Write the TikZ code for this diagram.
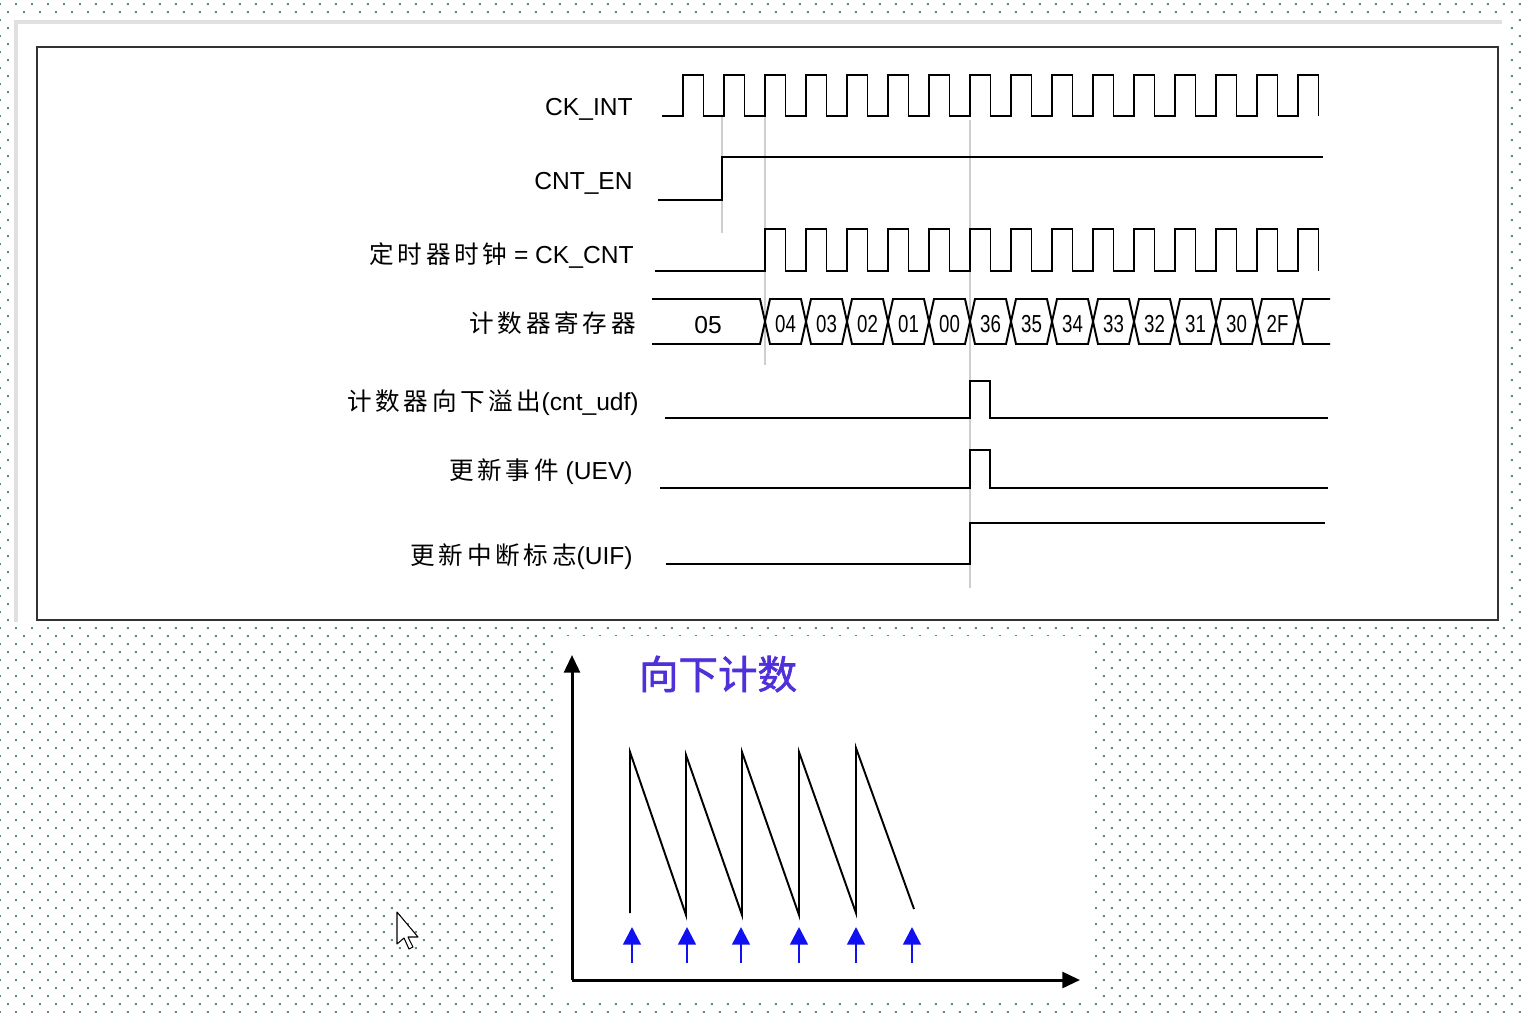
\documentclass[tikz,border=0pt]{standalone}
\usepackage{fontspec}
\setmainfont{Liberation Sans}
\newfontfamily\cjk{Noto Sans CJK SC}[LetterSpace=15]
\newfontfamily\cjktitle{Noto Sans CJK SC}[FakeBold=1.5]
\usepackage{graphicx}
\usetikzlibrary{arrows.meta, patterns.meta}
\definecolor{DotTeal}{HTML}{5A8C88}
\definecolor{FrameGray}{HTML}{E0E0E0}
\definecolor{BoxGray}{HTML}{333333}
\definecolor{GuideGray}{HTML}{CFCFCF}
\definecolor{TitleBlue}{HTML}{5030D8}
\definecolor{MarkBlue}{HTML}{1010F0}
\tikzset{
    sig/.style={
        draw=black,
        line width=1.1pt,
        line join=miter
    },
    guide/.style={
        draw=GuideGray,
        line width=0.6pt
    },
    lbl/.style={
        anchor=mid east,
        inner sep=0pt,
        font=\fontsize{14}{16}\selectfont
    },
    val/.style={
        inner sep=0pt,
        font=\fontsize{14}{16}\selectfont
    },
    axis/.style={
        draw=black,
        line width=1.7pt,
        -{Triangle[length=10pt,width=9pt]}
    },
    uparrow/.style={
        draw=MarkBlue,
        line width=1.5pt,
        -{Triangle[length=10pt,width=10pt]}
    },
    saw/.style={
        draw=black,
        line width=1.1pt,
        line join=miter
    }
}

\begin{document}
\begin{tikzpicture}[x=0.02cm, y=-0.02cm]
        % Background
        \fill[white] (0,0) rectangle (1524,1012);
        \fill[pattern={Dots[distance=0.2263cm, radius=0.8pt, angle=45]}, pattern color=DotTeal] (0,0) rectangle (1524,1012);
        \useasboundingbox (0,0) rectangle (1524,1012);

        % Sheet
        \fill[white] (14,19) rectangle (1505,625);
        \draw[FrameGray, line width=2.8pt] (16,622) -- (16,22) -- (1502,22);
        \draw[BoxGray, line width=1.3pt] (37,47) rectangle (1498,620);
        \fill[white] (556,636) rectangle (1095,1001);

        % Guides
        \draw[guide] (722,117) -- (722,233);
        \draw[guide] (765,117) -- (765,365);
        \draw[guide] (970,120) -- (970,588);

        % Labels
        \node[lbl] (ckint) at (633,111) {CK\_INT};
        \node[lbl] (cnten) at (633,185) {CNT\_EN};
        \node[lbl] (ckcnt) at (634,259) {{\cjk 定时器时钟} = CK\_CNT};
        \node[lbl] (cntreg) at (636,328) {\cjk 计数器寄存器};
        \node[lbl] (udf) at (639,406) {{\cjk 计数器向下溢出}(cnt\_udf)};
        \node[lbl] (uev) at (633,475) {{\cjk 更新事件} (UEV)};
        \node[lbl] (uif) at (633,560) {{\cjk 更新中断标志}(UIF)};

        % CK_INT
        \draw[sig] (662,116) \foreach \k in {0,...,15} {
            -- ({683+41*\k},116) -- ({683+41*\k},75) -- ({703.5+41*\k},75) -- ({703.5+41*\k},116)};

        % CNT_EN
        \draw[sig] (658,200) -- (722,200) -- (722,157) -- (1323,157);

        % CK_CNT
        \draw[sig] (655,271) \foreach \k in {0,...,13} {
            -- ({765+41*\k},271) -- ({765+41*\k},229) -- ({785.5+41*\k},229) -- ({785.5+41*\k},271)};

        % Counter register
        \draw[sig] (652,299) -- (760,299) -- (765,321.5) -- (760,344) -- (652,344);
        \node[val] (c05) at (708,325) {05};
        \foreach \v [count=\i from 0] in {04,03,02,01,00,36,35,34,33,32,31,30,2F} {
            \draw[sig] ({765+41*\i},321.5) -- ({770+41*\i},299) -- ({801+41*\i},299) -- ({806+41*\i},321.5)
                -- ({801+41*\i},344) -- ({770+41*\i},344) -- cycle;
            \node[val] (c\i) at ({785.5+41*\i},324) {\scalebox{0.76}[1]{\v}};
        }
        \draw[sig] (1330,299) -- (1303,299) -- (1298,321.5) -- (1303,344) -- (1330,344);

        % cnt_udf, UEV, UIF
        \draw[sig] (665,418) -- (970,418) -- (970,381) -- (990,381) -- (990,418) -- (1328,418);
        \draw[sig] (660,488) -- (970,488) -- (970,450) -- (990,450) -- (990,488) -- (1328,488);
        \draw[sig] (666,564) -- (970,564) -- (970,523) -- (1325,523);

        % Down-counting chart
        \node[font=\cjktitle\fontsize{22.5}{26}\selectfont, text=TitleBlue, inner sep=0pt] (title) at (718,674) {向下计数};
        \coordinate (orig) at (572,980);
        \coordinate (ytop) at (572,655);
        \coordinate (xend) at (1080,980);
        \draw[axis] (orig) -- (ytop);
        \draw[axis] (orig) -- (xend);
        \draw[saw] (630,913) -- (630,752) -- (686,915) -- (686,755) -- (742,915) -- (742,752)
            -- (799,915) -- (799,752) -- (856,913) -- (856,748) -- (914,909);
        \foreach \x in {632,687,741,799,856,912}
            \draw[uparrow] (\x,963) -- (\x,927);

        % Cursor
        \draw[fill=white, line width=0.6pt, line join=round] (397,912) -- ++(0,32) -- ++(7,-6) -- ++(5,11)
            -- ++(4,-2) -- ++(-5,-10) -- ++(10,0) -- cycle;
\end{tikzpicture}
\end{document}
